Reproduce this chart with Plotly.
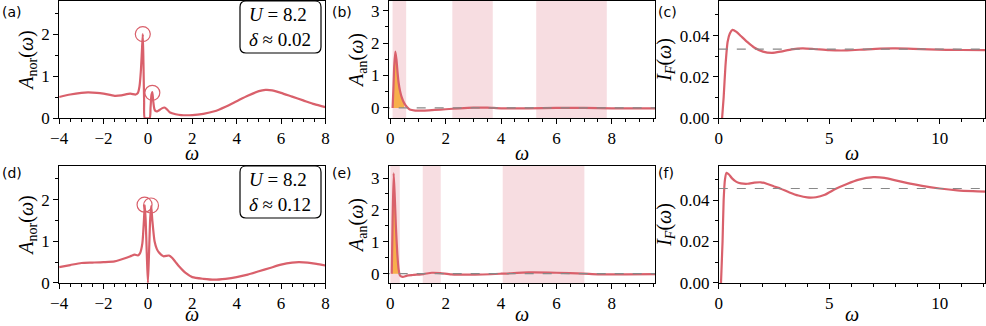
import numpy as np
import plotly.graph_objects as go

# ---- data ------------------------------------------------------------------
# (a) normal spectral function, delta ~ 0.02
wa = [-4, -3.5, -3, -2.7, -2.3, -2, -1.5, -1.2, -0.8, -0.55, -0.45, -0.38, -0.32,
      -0.27, -0.23, -0.2, -0.17, -0.14, 0.08, 0.12, 0.16, 0.2, 0.24, 0.29, 0.34,
      0.42, 0.52, 0.63, 0.75, 0.87, 1.0, 1.25, 1.5, 2.0, 2.5, 3.0, 3.5, 4.0, 4.5,
      5.0, 5.3, 5.6, 6.0, 6.5, 7.0, 7.5, 8.0]
Aa = [0.50, 0.56, 0.60, 0.61, 0.60, 0.58, 0.53, 0.54, 0.58, 0.56, 0.60, 0.75, 1.1,
      1.6, 2.0, 1.3, 0.4, 0.0, 0.0, 0.25, 0.55, 0.62, 0.4, 0.22, 0.17,
      0.16, 0.19, 0.23, 0.25, 0.2, 0.13, 0.09, 0.07, 0.07, 0.1, 0.16, 0.27, 0.40, 0.53,
      0.64, 0.67, 0.66, 0.60, 0.51, 0.42, 0.33, 0.26]
peaks_a_w = [-0.23, 0.2]
peaks_a_A = [2.0, 0.6]

# (d) normal spectral function, delta ~ 0.12
wd = [-4, -3.5, -3, -2.5, -2, -1.5, -1, -0.75, -0.6, -0.45, -0.35, -0.25, -0.18,
      -0.14, -0.1, -0.05, 0.0, 0.05, 0.1, 0.15, 0.2, 0.3, 0.4, 0.5, 0.7, 0.95,
      1.1, 1.25, 1.4, 1.7, 2.0, 2.5, 3.0, 3.5, 4.0, 4.5, 5.0, 5.5, 6.0, 6.5,
      6.8, 7.2, 7.6, 8.0]
Ad = [0.38, 0.43, 0.48, 0.49, 0.50, 0.52, 0.60, 0.65, 0.68, 0.66, 0.72, 0.95, 1.5,
      1.87, 1.5, 0.7, 0.0, 0.7, 1.5, 1.85, 1.5, 1.0, 0.82, 0.73, 0.64, 0.66,
      0.60, 0.50, 0.40, 0.24, 0.14, 0.10, 0.08, 0.10, 0.14, 0.20, 0.28, 0.36, 0.44, 0.49,
      0.50, 0.49, 0.46, 0.42]
peaks_d_w = [-0.15, 0.14]
peaks_d_A = [1.88, 1.86]

# (b) anomalous spectral function, delta ~ 0.02
wb = [0.08, 0.11, 0.14, 0.18, 0.22, 0.26, 0.3, 0.35, 0.4, 0.5, 0.6, 0.7, 0.9,
      1.2, 1.6, 2.0, 2.5, 3.0, 3.5, 4.0, 5.0, 6.0, 7.0, 8.0, 9.6]
Ab = [0.0, 0.6, 1.3, 1.74, 1.5, 1.1, 0.77, 0.52, 0.36, 0.15, 0.03, -0.05, -0.08,
      -0.08, -0.06, -0.04, -0.01, 0.01, 0.01, -0.01, -0.01, 0.0, 0.0, -0.01, -0.01]
bands_b = [(0.08, 0.57), (2.24, 3.70), (5.27, 7.82)]

# (e) anomalous spectral function, delta ~ 0.12
we = [0.05, 0.08, 0.12, 0.16, 0.2, 0.25, 0.3, 0.35, 0.45, 0.6, 0.8, 1.2, 1.5,
      1.8, 2.2, 3.0, 4.0, 5.0, 6.0, 7.0, 7.5, 8.5, 9.6]
Ae = [0.0, 1.6, 3.15, 2.4, 1.48, 0.65, 0.13, -0.06, -0.1, -0.06, -0.04, -0.01, 0.03,
      0.02, -0.02, -0.03, 0.0, 0.04, 0.03, 0.0, -0.02, -0.02, -0.01]
bands_e = [(0.0, 0.34), (1.17, 1.82), (4.06, 7.01)]

# (c), (f) integrated spectral weight and its asymptote
wc = [0.15, 0.22, 0.3, 0.4, 0.5, 0.62, 0.8, 1.0, 1.3, 1.6, 2.0, 2.4, 2.8, 3.3,
      3.8, 4.3, 5.0, 5.8, 6.5, 7.3, 8.0, 8.8, 9.5, 10.3, 11.0, 12.1]
Ic = [0.0, 0.01, 0.025, 0.037, 0.041, 0.0428, 0.0418, 0.0398, 0.0368, 0.0342,
      0.0322, 0.0316, 0.0322, 0.0333, 0.0338, 0.0335, 0.0329, 0.0328, 0.0332,
      0.0337, 0.0338, 0.0336, 0.0333, 0.0331, 0.033, 0.0329]
Ic_inf = 0.0334

wf = [0.1, 0.17, 0.22, 0.28, 0.35, 0.45, 0.6, 0.8, 1.0, 1.3, 1.6, 1.9, 2.2, 2.5,
      2.8, 3.2, 3.6, 4.0, 4.4, 4.8, 5.3, 5.8, 6.3, 7.0, 7.5, 8.0, 8.6, 9.2, 10.0,
      10.8, 11.5, 12.1]
If = [0.0, 0.02, 0.04, 0.05, 0.0532, 0.0525, 0.0505, 0.0488, 0.0481, 0.0479,
      0.0484, 0.0486, 0.0478, 0.0466, 0.0455, 0.0437, 0.0422, 0.0413, 0.0414,
      0.0426, 0.0455, 0.0478, 0.0498, 0.0511, 0.0507, 0.0495, 0.0481, 0.0469,
      0.0456, 0.0447, 0.0443, 0.0441]
If_inf = 0.0456

RED = "#d9606b"
PINK = "rgba(222,120,135,0.25)"
ORANGE = "rgba(246,170,60,0.9)"
SERIF = "Liberation Serif, Times New Roman, serif"

fig = go.Figure()

# axes domains in paper units (figure 986 x 326)
xdom = [[0.060, 0.330], [0.3945, 0.6645], [0.729, 0.999]]
ydom = [[0.638, 0.997], [0.132, 0.491]]


def ax_name(i):
    return "" if i == 1 else str(i)


def add_line(i, x, y, **kw):
    n = ax_name(i)
    fig.add_trace(go.Scatter(x=x, y=y, mode="lines", xaxis="x" + n, yaxis="y" + n,
                             showlegend=False, hoverinfo="skip", **kw))


curve = dict(color=RED, width=2.2, shape="spline", smoothing=0.6)

# (a) and (d)
for i, (w, A, pw, pA) in [(1, (wa, Aa, peaks_a_w, peaks_a_A)),
                          (4, (wd, Ad, peaks_d_w, peaks_d_A))]:
    add_line(i, w, A, line=curve)
    n = ax_name(i)
    fig.add_trace(go.Scatter(x=pw, y=pA, mode="markers", xaxis="x" + n, yaxis="y" + n,
                             marker=dict(symbol="circle-open", size=15, color=RED,
                                         line=dict(color=RED, width=1.2)),
                             showlegend=False, hoverinfo="skip"))

# (b) and (e)
for i, (w, A, bands) in [(2, (wb, Ab, bands_b)), (5, (we, Ae, bands_e))]:
    n = ax_name(i)
    for lo, hi in bands:
        fig.add_shape(type="rect", xref="x" + n, yref="y" + n + " domain",
                      x0=lo, x1=hi, y0=0, y1=1, fillcolor=PINK, line_width=0,
                      layer="below")
    w = np.array(w)
    A = np.array(A)
    cut = bands[0][1]
    m = w <= cut
    add_line(i, w[m], np.clip(A[m], 0, None), fill="tozeroy", fillcolor=ORANGE,
             line=dict(width=0, shape="spline", smoothing=0.6))
    add_line(i, w, A, line=curve)
    add_line(i, [-1, 10], [0, 0], line=dict(color="#888", width=1.2, dash="dash"))

# (c) and (f)
for i, (w, I, Iinf) in [(3, (wc, Ic, Ic_inf)), (6, (wf, If, If_inf))]:
    add_line(i, w, I, line=curve)
    add_line(i, [0, 13], [Iinf, Iinf], line=dict(color="#888", width=1.2, dash="dash"))

xranges = {1: [-4, 8], 2: [-0.05, 9.57], 3: [0, 12.05],
           4: [-4, 8], 5: [-0.05, 9.57], 6: [0, 12.05]}
yranges = {1: [0, 2.79], 2: [-0.31, 3.30], 3: [0, 0.0568],
           4: [0, 2.81], 5: [-0.29, 3.38], 6: [0, 0.0565]}
xdt = {1: (2, 0.5), 2: (2, 0.5), 3: (5, 1), 4: (2, 0.5), 5: (2, 0.5), 6: (5, 1)}
ydt = {1: (1, 0.5), 2: (1, 0.5), 3: (0.02, 0.01), 4: (1, 0.5), 5: (1, 0.5), 6: (0.02, 0.01)}
ytitles = {1: "<i>A</i><sub>nor</sub>(<i>ω</i>)", 2: "<i>A</i><sub>an</sub>(<i>ω</i>)",
           3: "<i>I<sub>F</sub></i>(<i>ω</i>)"}
tickfont = dict(family=SERIF, size=17, color="black")

for i in range(1, 7):
    n = ax_name(i)
    col = (i - 1) % 3
    row = (i - 1) // 3
    common = dict(showline=True, linecolor="black", linewidth=1, mirror=True,
                  ticks="outside", ticklen=5, tickcolor="black", showgrid=False,
                  zeroline=False, tickfont=tickfont, automargin=False)
    fig.layout["xaxis" + n] = dict(
        common, domain=xdom[col], anchor="y" + n, range=xranges[i],
        dtick=xdt[i][0], tick0=0,
        minor=dict(dtick=xdt[i][1], tick0=0, ticks="outside", ticklen=3, tickcolor="black"))
    fig.layout["yaxis" + n] = dict(
        common, domain=ydom[row], anchor="x" + n, range=yranges[i],
        dtick=ydt[i][0], tick0=0,
        tickformat=".2f" if col == 2 else "d",
        minor=dict(dtick=ydt[i][1], tick0=0, ticks="outside", ticklen=3, tickcolor="black"),
        title=dict(text=ytitles[col + 1], standoff=2,
                   font=dict(family=SERIF, size=20, color="black")))

# x-axis titles
for col in range(3):
    for yy in [1 - 153 / 326, 1 - 314 / 326]:
        fig.add_annotation(text="<i>ω</i>", xref="paper", yref="paper",
                           x=sum(xdom[col]) / 2, y=yy, showarrow=False,
                           xanchor="center", yanchor="middle",
                           font=dict(family=SERIF, size=20, color="black"))

# panel letters
letters = ["(a)", "(b)", "(c)", "(d)", "(e)", "(f)"]
letter_x = [0.0, 0.335, 0.6655]
for k, lab in enumerate(letters):
    fig.add_annotation(text=lab, xref="paper", yref="paper",
                       x=letter_x[k % 3], y=[0.995, 0.50][k // 3],
                       xanchor="left", yanchor="top", showarrow=False,
                       font=dict(family="DejaVu Sans", size=14, color="black"))

# parameter boxes (rounded frame drawn as a path)
W, H = 986.0, 326.0
for top, d in [(1, "0.02"), (166, "0.12")]:
    x0, x1 = 240 / W, 321 / W
    y1, y0 = 1 - top / H, 1 - (top + 52) / H
    rx, ry = 6 / W, 6 / H
    path = (f"M {x0 + rx} {y1} L {x1 - rx} {y1} Q {x1} {y1} {x1} {y1 - ry} "
            f"L {x1} {y0 + ry} Q {x1} {y0} {x1 - rx} {y0} "
            f"L {x0 + rx} {y0} Q {x0} {y0} {x0} {y0 + ry} "
            f"L {x0} {y1 - ry} Q {x0} {y1} {x0 + rx} {y1} Z")
    fig.add_shape(type="path", path=path, xref="paper", yref="paper",
                  line=dict(color="black", width=1.2), fillcolor="white", layer="above")
    fig.add_annotation(text="<i>U</i> = 8.2<br><i>δ</i> ≈ " + d,
                       xref="paper", yref="paper", x=(x0 + x1) / 2, y=(y0 + y1) / 2,
                       xanchor="center", yanchor="middle",
                       showarrow=False, align="left",
                       font=dict(family=SERIF, size=19, color="black"))

fig.update_layout(width=986, height=326, margin=dict(l=0, r=0, t=0, b=0),
                  plot_bgcolor="white", paper_bgcolor="white")

# drop the default page margin so the figure sits at the window's corner
fig.write_html("out.html", config={"displayModeBar": False},
               post_script="document.body.style.margin='0';")
